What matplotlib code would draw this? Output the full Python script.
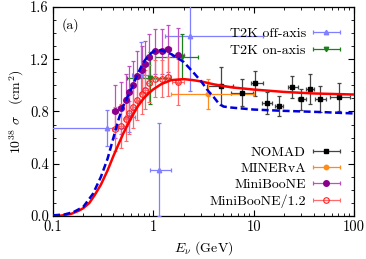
import numpy as np
import matplotlib
matplotlib.use("Agg")
import matplotlib.pyplot as plt
from matplotlib.legend_handler import HandlerErrorbar
from matplotlib.ticker import FixedLocator, NullFormatter, LogLocator

plt.rcParams['font.family'] = ['cmr10']
plt.rcParams['mathtext.fontset'] = 'cm'
plt.rcParams['axes.formatter.use_mathtext'] = True
plt.rcParams['font.size'] = 9

# ---- theory curves ----
red_E = [0.1, 0.12, 0.15, 0.18, 0.2, 0.23, 0.26, 0.3, 0.35, 0.4, 0.45, 0.5, 0.6, 0.7, 0.8, 0.9,
         1.0, 1.2, 1.5, 2.0, 2.5, 3.0, 4.0, 6.0, 10.0, 20.0, 40.0, 100.0]
red_s = [0.0, 0.003, 0.015, 0.04, 0.06, 0.10, 0.16, 0.24, 0.35, 0.46, 0.55, 0.63, 0.75, 0.84, 0.90, 0.94,
         0.97, 1.01, 1.04, 1.048, 1.04, 1.03, 1.008, 0.985, 0.968, 0.95, 0.938, 0.93]

blue_E = [0.1, 0.13, 0.16, 0.2, 0.25, 0.3, 0.35, 0.4, 0.45, 0.5, 0.6, 0.7, 0.8, 0.9, 1.0, 1.2, 1.5,
          2.0, 2.5, 3.0, 3.5, 4.0, 4.5, 5.0, 6.0, 10.0, 20.0, 50.0, 100.0]
blue_s = [0.005, 0.012, 0.03, 0.07, 0.17, 0.30, 0.44, 0.60, 0.74, 0.84, 0.97, 1.09, 1.18, 1.23, 1.26, 1.27, 1.24,
          1.18, 1.10, 1.03, 0.96, 0.91, 0.86, 0.838, 0.83, 0.815, 0.805, 0.795, 0.785]

# ---- T2K off-axis ----
t2koff_E = [0.345, 0.577, 0.75, 1.14, 2.33]
t2koff_s = [0.674, 0.76, 1.08, 0.35, 1.38]
t2koff_ylo = [0.14, 0.12, 0.14, 0.35, 0.42]
t2koff_yhi = [0.14, 0.12, 0.25, 0.36, 0.42]
t2koff_xlo = [0.09, 0.52, 0.61, 0.93, 1.30]
t2koff_xhi = [0.53, 0.66, 0.93, 1.50, 12.4]

# ---- T2K on-axis ----
t2kon_E = [0.93, 1.93]
t2kon_s = [1.056, 1.22]
t2kon_yerr = [0.20, 0.17]
t2kon_xlo = [0.55, 1.05]
t2kon_xhi = [1.45, 2.80]

# ---- NOMAD ----
nomad_E = [4.77, 7.73, 10.4, 13.6, 17.9, 23.9, 30.0, 36.1, 45.8, 71.8]
nomad_s = [0.995, 0.944, 1.016, 0.863, 0.845, 0.99, 0.894, 0.972, 0.899, 0.913]
nomad_yerr = [0.145, 0.105, 0.095, 0.085, 0.077, 0.083, 0.08, 0.112, 0.10, 0.108]
nomad_xlo = [3.4, 5.9, 9.4, 12.1, 16.2, 21.9, 27.6, 33.0, 40.6, 57.7]
nomad_xhi = [6.2, 9.8, 12.3, 15.3, 19.6, 27.7, 33.4, 40.0, 53.0, 91.0]

# ---- MINERvA ----
minerva_E = [3.5]
minerva_s = [0.934]
minerva_yerr = [0.115]
minerva_xlo = [1.5]
minerva_xhi = [10.0]

# ---- MiniBooNE ----
mb_E = [0.415, 0.473, 0.53, 0.577, 0.632, 0.69, 0.765, 0.83, 0.91, 1.04, 1.21, 1.41, 1.77]
mb_s = [0.80, 0.825, 0.89, 0.95, 1.00, 1.07, 1.12, 1.16, 1.22, 1.26, 1.26, 1.28, 1.23]
mb_yerr = [0.20, 0.20, 0.20, 0.20, 0.19, 0.19, 0.18, 0.18, 0.17, 0.17, 0.17, 0.18, 0.21]
mb_xerr = [0.025, 0.025, 0.025, 0.025, 0.025, 0.025, 0.025, 0.05, 0.05, 0.05, 0.1, 0.1, 0.25]
mb_scale = 1.2

fig = plt.figure(figsize=(3.66, 2.59), dpi=100)
ax = fig.add_axes([0.145, 0.166, 0.822, 0.807])


def xerr_from(E, lo, hi):
    E = np.asarray(E)
    return [E - np.asarray(lo), np.asarray(hi) - E]


ms = 3.2
cs = 1.6
elw = 0.9

h_off = ax.errorbar(t2koff_E, t2koff_s, yerr=[t2koff_ylo, t2koff_yhi],
                    xerr=xerr_from(t2koff_E, t2koff_xlo, t2koff_xhi),
                    fmt='^', color='#7f7fff', ms=ms, capsize=cs, elinewidth=elw, capthick=elw,
                    label='T2K off-axis', zorder=3)
h_on = ax.errorbar(t2kon_E, t2kon_s, yerr=t2kon_yerr,
                   xerr=xerr_from(t2kon_E, t2kon_xlo, t2kon_xhi),
                   fmt='v', color='#1a801a', ms=ms, capsize=cs, elinewidth=elw, capthick=elw,
                   label='T2K on-axis', zorder=3)
h_nom = ax.errorbar(nomad_E, nomad_s, yerr=nomad_yerr,
                    xerr=xerr_from(nomad_E, nomad_xlo, nomad_xhi),
                    fmt='s', color='black', ecolor='#444444', ms=ms, capsize=cs, elinewidth=elw,
                    capthick=elw, label='NOMAD', zorder=3)
h_min = ax.errorbar(minerva_E, minerva_s, yerr=minerva_yerr,
                    xerr=xerr_from(minerva_E, minerva_xlo, minerva_xhi),
                    fmt='o', color='#ff8c1a', ms=ms, capsize=cs, elinewidth=elw, capthick=elw,
                    label='MINERvA', zorder=3)
h_mb = ax.errorbar(mb_E, mb_s, yerr=mb_yerr, xerr=mb_xerr,
                   fmt='o', color='#8b008b', ecolor='#c050c0', ms=ms + 0.8, capsize=cs,
                   elinewidth=elw, capthick=elw, label='MiniBooNE', zorder=3)
mb2_s = np.asarray(mb_s) / mb_scale
mb2_err = np.asarray(mb_yerr) / mb_scale
h_mb2 = ax.errorbar(mb_E, mb2_s, yerr=mb2_err, xerr=mb_xerr,
                    fmt='o', mfc='none', mec='#ff2020', color='#ff2020', ecolor='#ff6a6a',
                    ms=ms + 0.8, mew=0.8, capsize=cs, elinewidth=elw, capthick=elw,
                    label='MiniBooNE/1.2', zorder=3)

ax.plot(red_E, red_s, '-', color='#ff0000', lw=1.8, zorder=4)
ax.plot(blue_E, blue_s, '--', color='#0000dd', lw=1.8, dashes=(2.8, 1.4), zorder=4)

ax.set_xscale('log')
ax.set_xlim(0.1, 100)
ax.set_ylim(0.0, 1.6)
ax.set_xticks([0.1, 1, 10, 100])
ax.set_xticklabels(['0.1', '1', '10', '100'])
ax.xaxis.set_minor_locator(LogLocator(base=10, subs=np.arange(2, 10)))
ax.xaxis.set_minor_formatter(NullFormatter())
ax.set_yticks([0.0, 0.4, 0.8, 1.2, 1.6])
ax.set_yticklabels(['0.0', '0.4', '0.8', '1.2', '1.6'])
ax.yaxis.set_minor_locator(FixedLocator(np.arange(0, 1.61, 0.1)))
ax.tick_params(which='both', direction='in', top=True, right=True, labelsize=10.5)
ax.tick_params(which='major', length=4, width=0.8)
ax.tick_params(which='minor', length=2, width=0.6)
ax.tick_params(axis='x', pad=3)
ax.tick_params(axis='y', pad=3)
for s in ax.spines.values():
    s.set_linewidth(0.9)

ax.set_xlabel(r'$E_\nu$ (GeV)', fontsize=10, labelpad=4)
ax.set_ylabel(r'$10^{38}\ \sigma\ \ \ (\mathrm{cm}^2)$', fontsize=10, labelpad=3)
ax.text(0.03, 0.915, '(a)', transform=ax.transAxes, fontsize=10, va='center', ha='left')

hmap = {h: HandlerErrorbar(xerr_size=0.97, yerr_size=0.0)
        for h in [h_off, h_on, h_nom, h_min, h_mb, h_mb2]}

leg1 = ax.legend([h_off, h_on], ['T2K off-axis', 'T2K on-axis'], loc='upper right',
                 frameon=False, markerfirst=False, handler_map=hmap, fontsize=10,
                 handlelength=2.0, handletextpad=0.45, labelspacing=0.32,
                 bbox_to_anchor=(0.995, 0.965))
ax.add_artist(leg1)
ax.legend([h_nom, h_min, h_mb, h_mb2], ['NOMAD', 'MINERvA', 'MiniBooNE', 'MiniBooNE/1.2'],
          loc='lower right', frameon=False, markerfirst=False, handler_map=hmap, fontsize=10,
          handlelength=2.0, handletextpad=0.45, labelspacing=0.24,
          bbox_to_anchor=(0.995, -0.02))

fig.savefig('out.png', dpi=100)
